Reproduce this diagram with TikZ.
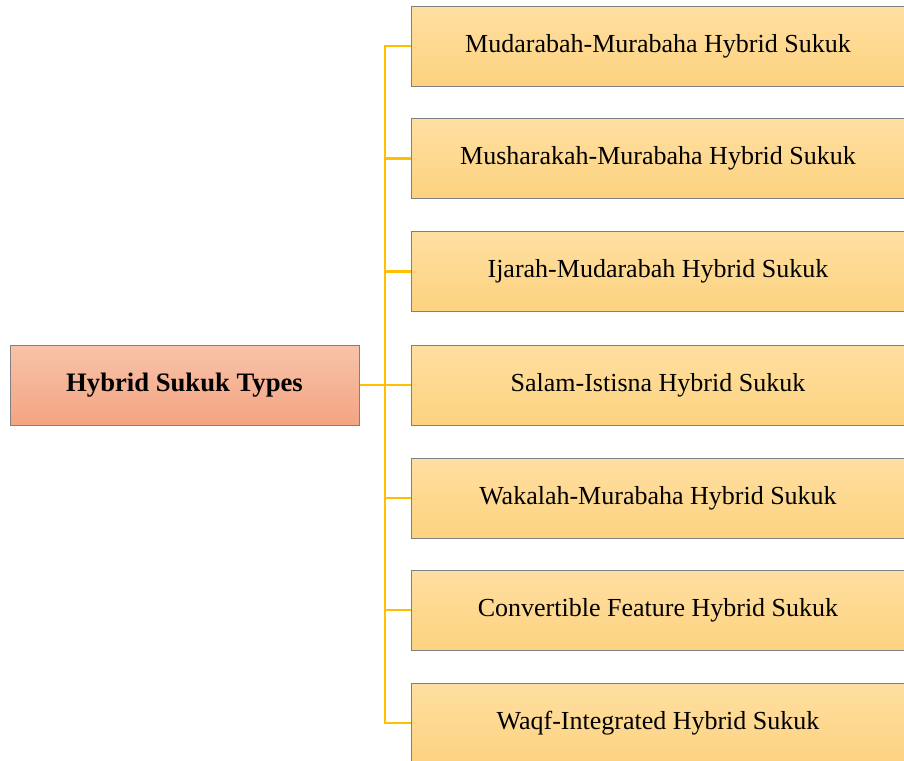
\documentclass[tikz,border=0pt]{standalone}
\usepackage{fontspec}
\setmainfont{Liberation Serif}
\usetikzlibrary{positioning}
\definecolor{rootTop}{HTML}{F7C3A9}
\definecolor{rootBot}{HTML}{F4A482}
\definecolor{subTop}{HTML}{FEDFA1}
\definecolor{subBot}{HTML}{FDD27F}
\definecolor{boxEdge}{HTML}{808080}
\definecolor{linkGold}{HTML}{FFC000}
\begin{document}
\begin{tikzpicture}[x=0.75pt,y=-0.75pt,
    rootbox/.style={draw=boxEdge, line width=0.75pt, top color=rootTop, bottom color=rootBot,
      minimum width=261.75pt, minimum height=60pt, inner sep=0pt,
      font=\fontsize{20}{24}\selectfont\bfseries},
    subbox/.style={draw=boxEdge, line width=0.75pt, top color=subTop, bottom color=subBot,
      minimum width=370.5pt, minimum height=60pt, inner sep=0pt,
      font=\fontsize{19.5}{24}\selectfont},
    link/.style={draw=linkGold, line width=1.9pt}]
  \useasboundingbox (0,0) rectangle (904,761);
  % root and branch point
  \node[rootbox] (root) at (184.5,385) {Hybrid Sukuk Types};
  \coordinate (trunk) at (385,385);
  % sukuk kinds
  \foreach \i/\y/\txt in {1/46/Mudarabah-Murabaha Hybrid Sukuk,
                          2/158.5/Musharakah-Murabaha Hybrid Sukuk,
                          3/271.5/Ijarah-Mudarabah Hybrid Sukuk,
                          4/385/Salam-Istisna Hybrid Sukuk,
                          5/498/Wakalah-Murabaha Hybrid Sukuk,
                          6/610/Convertible Feature Hybrid Sukuk,
                          7/723/Waqf-Integrated Hybrid Sukuk}
    \node[subbox] (s\i) at (658,\y) {\txt};
  % connectors
  \draw[link] (root.east) -- (trunk);
  \foreach \i in {1,...,7}
    \draw[link] (trunk) |- (s\i.west);
\end{tikzpicture}
\end{document}
